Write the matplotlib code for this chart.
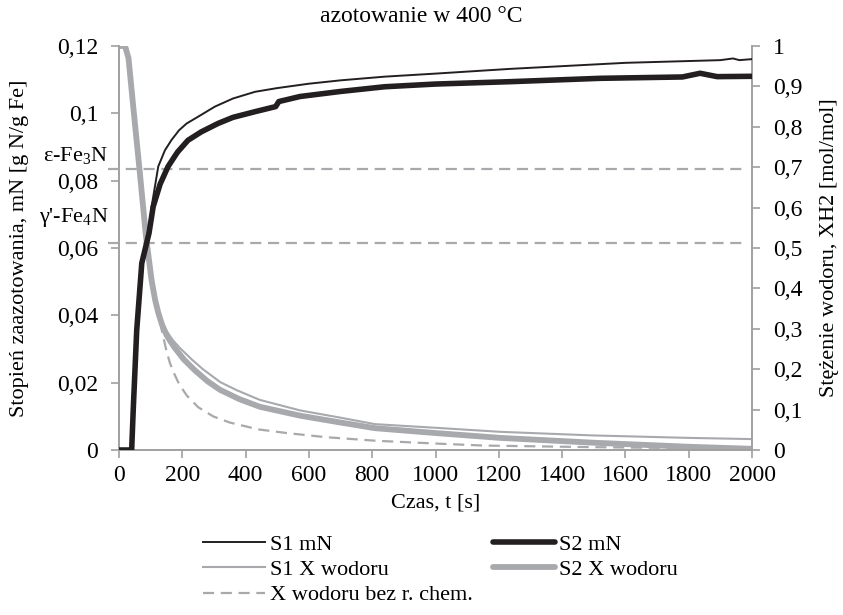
import matplotlib
matplotlib.use('Agg')
import matplotlib.pyplot as plt

plt.rcParams['font.family'] = ['Liberation Serif', 'DejaVu Serif']
plt.rcParams['mathtext.fontset'] = 'custom'
plt.rcParams['mathtext.rm'] = 'Liberation Serif'
plt.rcParams['mathtext.it'] = 'Liberation Serif:italic'

# dane
t_s1_mn = [0, 38, 45, 56, 72, 95, 103, 124, 145, 166, 190, 214, 250, 303, 360, 430, 500,
           600, 700, 840, 1000, 1235, 1600, 1900, 1940, 1960, 2000]
s1_mn = [0, 0, 0.012, 0.0356, 0.0555, 0.0645, 0.0723, 0.0842, 0.089, 0.0921, 0.095, 0.097,
         0.099, 0.102, 0.1044, 0.1064, 0.1075, 0.1088, 0.1098, 0.1109, 0.1118, 0.1132,
         0.1150, 0.1158, 0.1163, 0.1158, 0.1161]

t_s2_mn = [0, 40, 45, 56, 72, 95, 108, 130, 155, 185, 218, 260, 313, 360, 430, 495, 505,
           572, 700, 840, 1000, 1235, 1520, 1780, 1836, 1890, 2000]
s2_mn = [0, 0, 0.012, 0.0356, 0.0555, 0.0645, 0.0723, 0.079, 0.0842, 0.0885, 0.092, 0.0945,
         0.097, 0.0988, 0.1005, 0.102, 0.1035, 0.105, 0.1065, 0.1079, 0.1087, 0.1094, 0.1104,
         0.1108, 0.1119, 0.1109, 0.111]

t_s1_x = [0, 19, 30, 45, 66, 85, 103, 114, 124, 136, 150, 170, 193, 230, 265, 320, 372,
          445, 572, 700, 809, 1000, 1204, 1500, 1800, 2000]
s1_x = [1, 1, 0.97, 0.85, 0.685, 0.53, 0.42, 0.375, 0.345, 0.318, 0.295, 0.272, 0.252,
        0.224, 0.2, 0.168, 0.148, 0.124, 0.098, 0.08, 0.064, 0.055, 0.045, 0.036, 0.030,
        0.027]

t_s2_x = [0, 19, 30, 45, 66, 85, 103, 114, 124, 136, 150, 163, 177, 205, 240, 280, 319,
          380, 445, 572, 700, 809, 1000, 1204, 1500, 1800, 2000]
s2_x = [1, 1, 0.97, 0.85, 0.685, 0.53, 0.42, 0.372, 0.34, 0.31, 0.285, 0.268, 0.252, 0.224,
        0.197, 0.17, 0.149, 0.126, 0.107, 0.085, 0.068, 0.054, 0.042, 0.030, 0.018, 0.008,
        0.003]

t_x0 = [0, 19, 30, 45, 66, 85, 100, 114, 135, 150, 161, 175, 190, 214, 250, 298, 350, 403,
        440, 530, 650, 809, 1000, 1151, 1500, 2000]
x0 = [1, 1, 0.97, 0.85, 0.685, 0.53, 0.44, 0.379, 0.297, 0.245, 0.215, 0.188, 0.163, 0.135,
      0.106, 0.083, 0.068, 0.058, 0.051, 0.042, 0.032, 0.023, 0.016, 0.011, 0.007, 0.003]

# granice faz
fazy = ['ε-Fe$_\\mathrm{3}$N', "γ'-Fe$_\\mathrm{4}$N"]
fazy_mn = [0.0835, 0.0615]
fazy_label_y = [0.0876, 0.0692]

czarny = '#231f20'
szary = '#a7a9ac'
os_kolor = '#a0a0a0'
fs = 16
fs_tick = 17

fig = plt.figure(figsize=(8.43, 6.15), dpi=100)
ax = fig.add_axes([119 / 843, 1 - 450 / 615, 633 / 843, 404 / 615])
ax2 = ax.twinx()

for y in fazy_mn:
    ax.plot([-0.018, 0.99], [y, y], transform=ax.get_yaxis_transform(), color=szary,
            lw=1.6, ls=(0, (5, 3)), clip_on=False, zorder=1)
for nazwa, y in zip(fazy, fazy_label_y):
    ax.text(-0.017, y, nazwa, transform=ax.get_yaxis_transform(), ha='right', va='center',
            fontsize=fs)

l3, = ax2.plot(t_x0, x0, color=szary, lw=1.6, ls=(0, (5, 3)))
l2x, = ax2.plot(t_s1_x, s1_x, color=szary, lw=1.5)
l2, = ax2.plot(t_s2_x, s2_x, color=szary, lw=4.2, solid_capstyle='round')

l1, = ax.plot(t_s1_mn, s1_mn, color=czarny, lw=1.4, zorder=5)
l1b, = ax.plot(t_s2_mn, s2_mn, color=czarny, lw=4.0, zorder=4, solid_capstyle='round')
ax.set_zorder(ax2.get_zorder() + 1)
ax.patch.set_visible(False)

ax.set_xlim(0, 2000)
ax.set_ylim(0, 0.12)
ax2.set_ylim(0, 1)
ax.set_xticks(range(0, 2001, 200))
ax.set_yticks([0, 0.02, 0.04, 0.06, 0.08, 0.1, 0.12])
ax.set_yticklabels(['0', '0,02', '0,04', '0,06', '0,08', '0,1', '0,12'])
ax2.set_yticks([i / 10 for i in range(11)])
ax2.set_yticklabels(['0', '0,1', '0,2', '0,3', '0,4', '0,5', '0,6', '0,7', '0,8', '0,9', '1'])

for a in (ax, ax2):
    a.spines['top'].set_visible(False)
    for s in ('left', 'right', 'bottom'):
        a.spines[s].set_color(os_kolor)
        a.spines[s].set_linewidth(1.2)
    a.tick_params(colors=os_kolor, labelcolor='black', labelsize=fs_tick, length=6, width=1.2)
ax.tick_params(axis='y', pad=9)
ax.tick_params(axis='x', pad=5)
ax2.tick_params(axis='y', pad=9)

ax.set_xlabel('Czas, t [s]', fontsize=fs, labelpad=5)
ax.set_ylabel('Stopień zaazotowania, mN [g N/g Fe]', fontsize=fs)
ax.yaxis.set_label_coords(-0.142, 0.5)
ax2.set_ylabel('Stężenie wodoru, XH2 [mol/mol]', fontsize=fs)
ax2.yaxis.set_label_coords(1.108, 0.5)
fig.text(0.5, 1 - 16 / 615, 'azotowanie w 400 °C', ha='center', va='center', fontsize=17)

fig.legend([l1, l2x, l3, l1b, l2], ['S1 mN', 'S1 X wodoru', 'X wodoru bez r. chem.',
                                    'S2 mN', 'S2 X wodoru'],
           ncol=2, loc='upper left', bbox_to_anchor=(203 / 843, 1 - 534 / 615),
           frameon=False, fontsize=fs, borderpad=0, borderaxespad=0,
           handlelength=2.8, handletextpad=0.2, labelspacing=0.22, columnspacing=0.9)

fig.savefig('out.png', dpi=100)
